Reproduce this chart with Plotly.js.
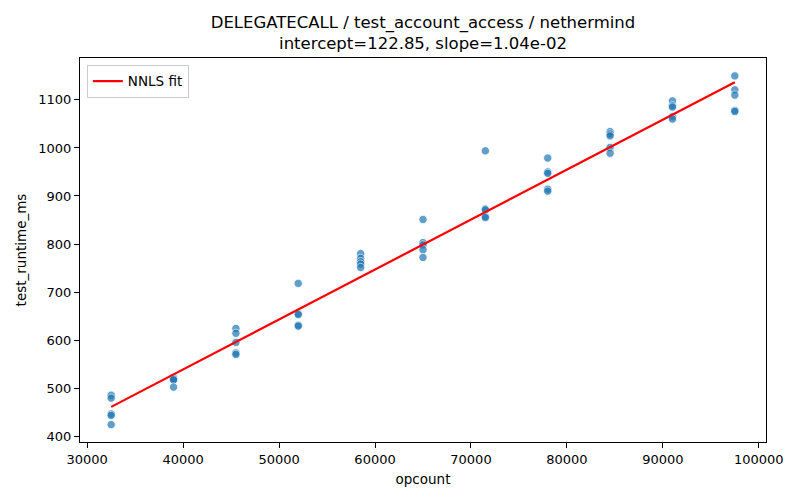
<!DOCTYPE html>
<html>
<head>
<meta charset="utf-8">
<script src="https://cdn.plot.ly/plotly-3.0.1.min.js"></script>
<style>html,body{margin:0;padding:0;background:#fff}#chart{width:800px;height:500px}</style>
</head>
<body>
<div id="chart"></div>
<script>
// Measured runs (opcount, runtime in ms)
const opcount = [
  32500, 32500, 32500, 32500, 32500,
  39000, 39000, 39000, 39000, 39000,
  45500, 45500, 45500, 45500, 45500,
  52000, 52000, 52000, 52000, 52000,
  58500, 58500, 58500, 58500, 58500,
  65000, 65000, 65000, 65000, 65000,
  71500, 71500, 71500, 71500, 71500,
  78000, 78000, 78000, 78000, 78000,
  84500, 84500, 84500, 84500, 84500,
  91000, 91000, 91000, 91000, 91000,
  97500, 97500, 97500, 97500, 97500
];
const runtimeMs = [
  485, 479, 446, 443, 424,
  522, 520, 518, 517, 502,
  624, 614, 595, 573, 570,
  718, 655, 653, 631, 629,
  780, 770, 763, 758, 751,
  851, 803, 798, 788, 772,
  994, 873, 871, 857, 855,
  979, 950, 947, 914, 910,
  1034, 1029, 1025, 1001, 989,
  1098, 1088, 1085, 1065, 1060,
  1150, 1121, 1110, 1078, 1076
];
// NNLS fit line endpoints
const fitX = [32500, 97500];
const fitY = [460.85, 1136.85];

const xTicks = [30000, 40000, 50000, 60000, 70000, 80000, 90000, 100000];
const yTicks = [400, 500, 600, 700, 800, 900, 1000, 1100];

const font = 'DejaVu Sans, sans-serif';

const traces = [
  {
    x: opcount, y: runtimeMs, type: 'scatter', mode: 'markers',
    marker: {color: '#1f77b4', size: 8.3, opacity: 0.7, line: {color: '#ffffff', width: 0.8}},
    showlegend: false, hoverinfo: 'skip'
  },
  {
    x: fitX, y: fitY, type: 'scatter', mode: 'lines',
    name: 'NNLS fit', line: {color: '#ff0000', width: 2.2}
  }
];

const axisCommon = {
  showgrid: false, zeroline: false, showline: true, mirror: true,
  linecolor: '#000', linewidth: 1, ticks: 'outside', ticklen: 5,
  tickwidth: 1, tickcolor: '#000',
  tickfont: {family: font, size: 13, color: '#000'}
};

const layout = {
  width: 800, height: 500,
  margin: {l: 80, r: 34, t: 58, b: 58},
  paper_bgcolor: '#fff', plot_bgcolor: '#fff',
  font: {family: font, color: '#000'},
  title: {
    text: 'DELEGATECALL / test_account_access / nethermind<br>intercept=122.85, slope=1.04e-02',
    font: {family: font, size: 16.5, color: '#000'},
    x: 0.5, xref: 'paper', xanchor: 'center',
    y: 0.945, yref: 'container', yanchor: 'bottom'
  },
  xaxis: Object.assign({}, axisCommon, {
    range: [29250, 100750], tickvals: xTicks, ticktext: xTicks.map(String),
    title: {text: 'opcount', font: {family: font, size: 13.5, color: '#000'}, standoff: 8}
  }),
  yaxis: Object.assign({}, axisCommon, {
    range: [387.7, 1187.3], tickvals: yTicks, ticktext: yTicks.map(String),
    title: {text: 'test_runtime_ms', font: {family: font, size: 13.5, color: '#000'}, standoff: 8}
  }),
  legend: {
    x: 0.01, y: 0.982, xanchor: 'left', yanchor: 'top',
    bgcolor: 'rgba(255,255,255,0.8)', bordercolor: '#cccccc', borderwidth: 1,
    font: {family: font, size: 13.5, color: '#000'}, itemwidth: 30
  },
  showlegend: true
};

Plotly.newPlot('chart', traces, layout, {displayModeBar: false, staticPlot: true});
</script>
</body>
</html>
